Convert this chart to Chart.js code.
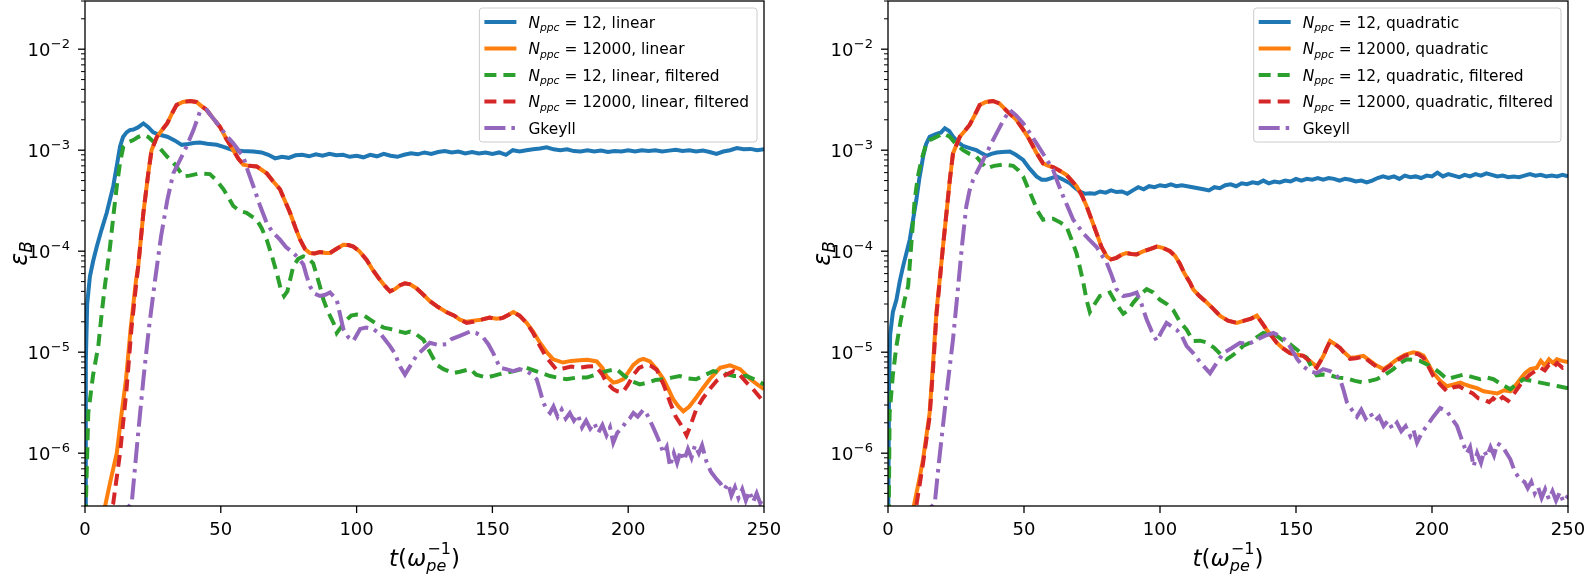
<!DOCTYPE html>
<html>
<head>
<meta charset="utf-8">
<title>epsilon_B vs time</title>
<script src="https://cdn.jsdelivr.net/npm/chart.js@4.4.0/dist/chart.umd.min.js"></script>
<style>
  html, body { margin: 0; padding: 0; background: #fff; }
  #wrap { position: relative; width: 1585px; height: 576px; overflow: hidden; }
  #leftBox { position: absolute; left: 0; top: 0; width: 790px; height: 576px; }
  #rightBox { position: absolute; left: 790px; top: 0; width: 795px; height: 576px; }
</style>
</head>
<body>
<div id="wrap">
  <div id="leftBox"><canvas id="leftCanvas"></canvas></div>
  <div id="rightBox"><canvas id="rightCanvas"></canvas></div>
</div>
<script>
// axis ticks
const xTicks = [0, 50, 100, 150, 200, 250];
const yMajorExp = [-6, -5, -4, -3, -2];
const yMin = 3e-7, yMax = 3e-2;

// legend labels
const linearLabels = ['N_{ppc} = 12, linear', 'N_{ppc} = 12000, linear', 'N_{ppc} = 12, linear, filtered', 'N_{ppc} = 12000, linear, filtered', 'Gkeyll'];
const quadLabels = ['N_{ppc} = 12, quadratic', 'N_{ppc} = 12000, quadratic', 'N_{ppc} = 12, quadratic, filtered', 'N_{ppc} = 12000, quadratic, filtered', 'Gkeyll'];

const colors = ['#1f77b4', '#ff7f0e', '#2ca02c', '#d62728', '#9467bd'];
const dashes = [[], [], [12, 7], [12, 7], [21, 6, 3.5, 6]];

// ---- linear shape, Nppc = 12
const lin12T = [0, 0.3, 0.8, 1.8, 3, 4.3, 6, 8, 10.4, 11.7, 12.9, 14, 15.3, 16.5, 17.8, 19.5, 21.5, 23.2, 25.1, 27.5, 30.3, 33, 35.6, 38, 40, 42.3, 45, 48.5, 51, 54.6, 58, 62, 65, 67.5, 70,
  72.5, 75, 77.5, 80, 82.5, 85, 87.5, 90, 92.5, 95, 97.5, 100, 102.5, 105, 107.5, 110, 112.5, 115, 117.5, 120, 122.5, 125, 127.5, 130, 132.5, 135, 137.5, 140, 142.5, 145, 147.5,
  150, 152.5, 155, 157.5, 160, 162.5, 165, 167.5, 170, 172.5, 175, 177.5, 180, 182.5, 185, 187.5, 190, 192.5, 195, 197.5, 200, 202.5, 205, 207.5, 210, 212.5, 215, 217.5, 220,
  222.5, 225, 227.5, 230, 232.5, 235, 237.5, 240, 242.5, 245, 247.5, 250];
const lin12E = [1e-7, 8e-6, 3e-5, 5.6e-5, 8e-5, 1.1e-4, 1.6e-4, 2.4e-4, 4.4e-4, 7e-4, 1.09e-3, 1.35e-3, 1.5e-3, 1.58e-3, 1.6e-3, 1.68e-3, 1.84e-3, 1.7e-3, 1.5e-3, 1.42e-3, 1.36e-3, 1.25e-3, 1.13e-3, 1.15e-3, 1.18e-3, 1.19e-3, 1.16e-3, 1.13e-3, 1.08e-3, 1.0e-3, 0.98e-3, 0.97e-3, 0.95e-3, 0.9e-3, 0.83e-3,
  0.86e-3, 0.84e-3, 0.89e-3, 0.9e-3, 0.87e-3, 0.91e-3, 0.88e-3, 0.92e-3, 0.89e-3, 0.9e-3, 0.86e-3, 0.88e-3, 0.85e-3, 0.9e-3, 0.87e-3, 0.92e-3, 0.88e-3, 0.86e-3, 0.9e-3, 0.93e-3, 0.91e-3, 0.95e-3, 0.92e-3, 0.96e-3, 0.98e-3, 0.95e-3, 0.97e-3, 0.93e-3, 0.96e-3, 0.93e-3, 0.95e-3,
  0.92e-3, 0.95e-3, 0.9e-3, 1.0e-3, 0.97e-3, 1.0e-3, 1.02e-3, 1.04e-3, 1.07e-3, 1.02e-3, 1.0e-3, 1.02e-3, 0.98e-3, 0.97e-3, 1.0e-3, 0.97e-3, 0.99e-3, 0.96e-3, 0.98e-3, 0.97e-3, 1.0e-3, 0.97e-3, 1.0e-3, 0.98e-3, 1.0e-3, 0.97e-3, 0.99e-3, 1.01e-3, 0.98e-3,
  1.0e-3, 0.97e-3, 0.99e-3, 0.96e-3, 0.92e-3, 0.97e-3, 1.0e-3, 1.05e-3, 1.02e-3, 1.03e-3, 1.0e-3, 1.02e-3];

// ---- linear shape, Nppc = 12000
const lin12kT = [0, 7.4, 9.5, 11.7, 13.5, 15.1, 16.8, 18.8, 19.6, 21.5, 23.3, 24.5, 26.5, 28.5, 30.3, 32, 33.7, 36, 38.7, 41, 42.8, 44.8, 47, 49.7, 52, 54.6, 56.5, 58.3, 60.5, 63.2, 65, 66.9, 69, 71.8, 73.5, 75.5, 77.5, 79.2,
  81, 82.8, 84.5, 86.5, 88.5, 90.2, 92.5, 95.1, 97, 98.8, 101, 103.7, 106, 108.6, 110.5, 112.3, 114, 116, 117.8, 119.7, 122, 124.6, 127, 130, 133, 136, 138, 140.5, 143, 146, 149, 151.5, 154, 156, 157.7, 160, 162.6,
  165, 167.5, 170, 172.4, 176, 179, 182.2, 185, 188.4, 190.5, 192, 194.5, 196, 198.2, 200, 201.9, 204, 205.6, 208, 210.5, 213, 215, 216.6, 218.5, 220.3, 222.5, 225.2, 227.5, 230, 233.8, 237.5, 241.2, 245, 247.5, 250];
const lin12kE = [1e-7, 3e-7, 5.5e-7, 1e-6, 2.5e-6, 5.4e-6, 1.7e-5, 5.2e-5, 7.1e-5, 2.4e-4, 5.9e-4, 1.0e-3, 1.36e-3, 1.6e-3, 1.85e-3, 2.3e-3, 2.8e-3, 3.0e-3, 3.07e-3, 3.0e-3, 2.75e-3, 2.5e-3, 2.1e-3, 1.7e-3, 1.3e-3, 1.0e-3, 0.82e-3, 0.72e-3, 0.7e-3, 0.69e-3, 0.64e-3, 0.59e-3, 0.5e-3, 0.41e-3, 0.32e-3, 0.24e-3, 0.17e-3, 1.3e-4,
  1.05e-4, 9.6e-5, 9.5e-5, 9.8e-5, 9.6e-5, 9.6e-5, 1.05e-4, 1.16e-4, 1.15e-4, 1.11e-4, 1.0e-4, 8.2e-5, 6.5e-5, 5.2e-5, 4.5e-5, 4.0e-5, 4.2e-5, 4.6e-5, 4.8e-5, 4.7e-5, 4.3e-5, 3.7e-5, 3.2e-5, 2.8e-5, 2.5e-5, 2.3e-5, 2.1e-5, 2.0e-5, 2.05e-5, 2.1e-5, 2.2e-5, 2.15e-5, 2.2e-5, 2.35e-5, 2.5e-5, 2.3e-5, 1.95e-5,
  1.6e-5, 1.24e-5, 1.0e-5, 8.5e-6, 7.9e-6, 8.2e-6, 8.3e-6, 8.4e-6, 8.1e-6, 7.0e-6, 5.8e-6, 5.0e-6, 5.1e-6, 5.4e-6, 6.3e-6, 7.5e-6, 8.3e-6, 8.6e-6, 8.1e-6, 6.8e-6, 5.4e-6, 4.2e-6, 3.4e-6, 2.9e-6, 2.6e-6, 2.9e-6, 3.6e-6, 4.4e-6, 5.4e-6, 7.0e-6, 7.4e-6, 6.8e-6, 5.4e-6, 4.8e-6, 4.3e-6];

// ---- linear shape, Nppc = 12, filtered
const lin12fT = [0, 0.3, 1.2, 3, 4.9, 6.2, 7.4, 9.2, 10.5, 11.7, 12.9, 14.1, 16, 17.8, 19.5, 21.5, 23.3, 25.1, 27.5, 30.3, 32, 33.7, 36.2, 38.5, 42.3, 46, 48.5, 51, 52.8, 54.6, 57, 59.5, 61.5, 63.2, 65, 66.9, 68.8, 70.6, 72, 73.3, 74.5, 76.7, 78.5,
  80.4, 82, 84, 85.3, 86.5, 87.8, 89.5, 91.5, 92.7, 94.5, 96.4, 98, 100, 102.8, 105, 107.4, 110, 112.3, 114, 116, 118, 119.7, 122, 124.6, 127, 129.5, 132, 135.6, 138, 141.8, 144, 147.9, 151, 154, 158, 162.6, 166,
  171.2, 174, 177.3, 181, 184.7, 188, 192, 195.7, 198, 201, 204.3, 207, 210, 213, 216, 219, 222, 225, 228, 231.3, 235, 238.9, 243.6, 247, 250];
const lin12fE = [1e-7, 3e-7, 2.5e-6, 6e-6, 1.15e-5, 2.5e-5, 4.7e-5, 1.1e-4, 2.3e-4, 4.4e-4, 7.5e-4, 1.08e-3, 1.2e-3, 1.26e-3, 1.35e-3, 1.42e-3, 1.35e-3, 1.22e-3, 1.05e-3, 0.86e-3, 0.78e-3, 0.69e-3, 0.55e-3, 0.56e-3, 0.59e-3, 0.58e-3, 0.5e-3, 0.41e-3, 0.34e-3, 0.28e-3, 0.25e-3, 0.24e-3, 0.22e-3, 2.05e-4, 1.7e-4, 1.3e-4, 9e-5, 6.1e-5, 4.3e-5, 3.6e-5, 4.0e-5, 7.1e-5, 8.4e-5,
  8.9e-5, 8.6e-5, 7.6e-5, 5.8e-5, 4.5e-5, 3.3e-5, 2.5e-5, 1.95e-5, 1.55e-5, 1.8e-5, 2.1e-5, 2.3e-5, 2.36e-5, 2.3e-5, 2.1e-5, 1.9e-5, 1.75e-5, 1.7e-5, 1.65e-5, 1.6e-5, 1.55e-5, 1.6e-5, 1.5e-5, 1.33e-5, 1.0e-5, 7.5e-6, 6.8e-6, 6.2e-6, 6.4e-6, 6.8e-6, 6.0e-6, 5.6e-6, 5.9e-6, 6.2e-6, 6.5e-6, 7.0e-6, 6.5e-6,
  5.8e-6, 5.6e-6, 5.4e-6, 5.6e-6, 5.6e-6, 6.0e-6, 6.5e-6, 6.8e-6, 6.0e-6, 5.2e-6, 4.8e-6, 5.0e-6, 5.3e-6, 5.4e-6, 5.6e-6, 5.8e-6, 5.5e-6, 5.4e-6, 5.9e-6, 6.5e-6, 6.2e-6, 5.8e-6, 5.8e-6, 5.3e-6, 4.8e-6];

// ---- linear shape, Nppc = 12000, filtered
const lin12kfT = [0, 10.4, 12.9, 15.3, 17.1, 18.8, 19.6, 21.5, 23.3, 24.5, 26.5, 28.5, 30.3, 32, 33.7, 36, 38.7, 41, 42.8, 44.8, 47, 49.7, 52, 54.6, 56.5, 58.3, 60.5, 63.2, 65, 66.9, 69, 71.8, 73.5, 75.5, 77.5, 79.2,
  81, 82.8, 84.5, 86.5, 88.5, 90.2, 92.5, 95.1, 97, 98.8, 101, 103.7, 106, 108.6, 110.5, 112.3, 114, 116, 117.8, 119.7, 122, 124.6, 127, 130, 133, 136, 138, 140.5, 143, 146, 149, 151.5, 154, 156, 157.7, 160, 162.6,
  165, 167.5, 170, 173.6, 176, 179, 182, 185, 188, 190.5, 192, 194.5, 196, 198, 200, 202, 204, 206.8, 208.5, 210.5, 213, 215.4, 217.5, 219.7, 221.5, 223, 225, 227.5, 230, 232.5, 235, 238.9, 241, 243.6, 246, 248, 250];
const lin12kfE = [1e-7, 3.2e-7, 1e-6, 4.3e-6, 1.7e-5, 4.6e-5, 7.1e-5, 2.4e-4, 5.9e-4, 1.0e-3, 1.36e-3, 1.6e-3, 1.85e-3, 2.3e-3, 2.8e-3, 3.0e-3, 3.07e-3, 3.0e-3, 2.75e-3, 2.5e-3, 2.1e-3, 1.7e-3, 1.3e-3, 1.0e-3, 0.82e-3, 0.72e-3, 0.7e-3, 0.69e-3, 0.64e-3, 0.59e-3, 0.5e-3, 0.41e-3, 0.32e-3, 0.24e-3, 0.17e-3, 1.3e-4,
  1.05e-4, 9.6e-5, 9.5e-5, 9.8e-5, 9.6e-5, 9.6e-5, 1.05e-4, 1.16e-4, 1.15e-4, 1.11e-4, 1.0e-4, 8.2e-5, 6.5e-5, 5.2e-5, 4.5e-5, 4.0e-5, 4.2e-5, 4.6e-5, 4.8e-5, 4.7e-5, 4.3e-5, 3.7e-5, 3.2e-5, 2.8e-5, 2.5e-5, 2.3e-5, 2.1e-5, 1.95e-5, 2.0e-5, 2.1e-5, 2.2e-5, 2.1e-5, 2.2e-5, 2.35e-5, 2.5e-5, 2.3e-5, 1.95e-5,
  1.55e-5, 1.15e-5, 8.8e-6, 6.7e-6, 6.9e-6, 7.2e-6, 7.0e-6, 7.2e-6, 7.3e-6, 6.0e-6, 5.0e-6, 4.3e-6, 4.1e-6, 4.0e-6, 4.8e-6, 6.0e-6, 7.0e-6, 7.5e-6, 7.3e-6, 6.7e-6, 4.8e-6, 3.2e-6, 2.3e-6, 1.86e-6, 1.5e-6, 1.9e-6, 2.7e-6, 3.5e-6, 4.3e-6, 5.2e-6, 5.8e-6, 6.5e-6, 6.0e-6, 5.0e-6, 4.3e-6, 3.7e-6, 3.2e-6];

// ---- Gkeyll (left panel)
const linGkT = [0, 17.2, 19.5, 21.5, 23.5, 25.8, 28, 30.3, 32.5, 35, 37.4, 40, 42.3, 44.8, 47, 49.7, 52, 54.6, 56.5, 58.3, 60, 62, 64.5, 66.9, 69, 71.8, 74, 76.7, 78.5, 80.4, 81.5, 82.8, 84.5, 86.5, 88.5, 90.2, 92.7, 95.1, 97, 98.8,
  101.3, 103.5, 106, 109, 112.3, 114, 116, 117.8, 120, 122, 125, 127, 130, 133, 135, 138, 141.8, 144, 146.6, 148.5, 150.3, 152.8, 155, 157.7, 160, 162.6, 164.5, 166.3, 167.5, 168.7, 170, 171.2, 172.5, 174, 175.5,
  177, 178.5, 180, 181.5, 183, 184.5, 186, 187.5, 189, 190.5, 192, 193.3, 194.5, 196, 197.5, 199, 200.5, 201.9, 203.5, 205.6, 207, 209, 211, 213, 214.2, 215.4, 216.8, 218, 219.3, 220.6, 222, 223.3, 224.6, 226, 227.2,
  228.9, 230.5, 232.6, 234, 235.4, 236.8, 238, 239.3, 240.6, 242, 243.3, 244.6, 246, 247.3, 248.6, 250];
const linGkE = [1e-7, 3.2e-7, 1.5e-6, 5.4e-6, 1.7e-5, 5.2e-5, 1.4e-4, 3.2e-4, 5.9e-4, 0.8e-3, 1.09e-3, 1.6e-3, 2.4e-3, 2.5e-3, 2.1e-3, 1.7e-3, 1.4e-3, 1.17e-3, 1.0e-3, 0.86e-3, 0.62e-3, 4.4e-4, 2.8e-4, 1.9e-4, 1.55e-4, 1.3e-4, 1.1e-4, 9.6e-5, 8.6e-5, 7.4e-5, 5.8e-5, 4.5e-5, 3.8e-5, 3.6e-5, 3.7e-5, 3.9e-5, 3.3e-5, 1.7e-5, 1.4e-5, 1.29e-5,
  1.7e-5, 1.75e-5, 1.7e-5, 1.5e-5, 1.15e-5, 9.8e-6, 7.2e-6, 6.0e-6, 7.5e-6, 9.2e-6, 1.1e-5, 1.24e-5, 1.18e-5, 1.2e-5, 1.35e-5, 1.45e-5, 1.6e-5, 1.55e-5, 1.4e-5, 1.2e-5, 9.8e-6, 7.0e-6, 6.8e-6, 6.5e-6, 6.8e-6, 6.5e-6, 6.0e-6, 5.4e-6, 4.2e-6, 3.2e-6, 2.7e-6, 2.5e-6, 2.9e-6, 2.3e-6, 2.7e-6,
  2.2e-6, 2.5e-6, 2.1e-6, 2.4e-6, 1.8e-6, 2.1e-6, 1.75e-6, 2.0e-6, 1.6e-6, 1.9e-6, 1.5e-6, 1.8e-6, 1.27e-6, 1.6e-6, 1.75e-6, 2.0e-6, 2.2e-6, 2.5e-6, 2.3e-6, 2.7e-6, 2.4e-6, 1.85e-6, 1.4e-6, 1.0e-6, 1.15e-6, 7.4e-7, 1.0e-6, 8.0e-7, 1.05e-6, 8.5e-7, 1.1e-6, 9.0e-7, 1.2e-6, 1.0e-6, 1.2e-6,
  8.1e-7, 6.5e-7, 5.5e-7, 5.0e-7, 4.4e-7, 5.0e-7, 3.8e-7, 4.6e-7, 3.6e-7, 4.4e-7, 3.4e-7, 4.2e-7, 3.3e-7, 4.0e-7, 3.2e-7, 3.6e-7];

// ---- quadratic shape, Nppc = 12
const quad12T = [0, 0.4, 0.8, 1.8, 3.1, 4.3, 5.5, 8, 10.4, 11.5, 12.9, 14, 15.3, 17.8, 19.5, 20.9, 22.5, 23.9, 25.5, 27.6, 30, 32.5, 34.5, 36.2, 38, 40, 42, 44.8, 47, 49.7, 52, 54.6, 56.5, 58.3, 60, 62, 64.5, 66.9, 68.5, 70.5, 72.5, 74.2,
  76, 78, 80, 82, 84, 86, 88, 90, 92, 94, 96, 98, 100, 102, 104, 106, 108, 110, 112, 114, 116, 118, 120, 122, 124, 126, 128, 130, 132, 134, 136, 138, 140, 142, 144, 146, 148, 150, 152, 154, 156, 158, 160, 162,
  164, 166, 168, 170, 172, 174, 176, 178, 180, 182, 184, 186, 188, 190, 192, 194, 196, 198, 200, 202, 204, 206, 208, 210, 212, 214, 216, 218, 220, 222, 224, 226, 228, 230, 232, 234, 236, 238, 240, 242, 244, 246, 248, 250];
const quad12E = [1e-7, 5e-6, 1.5e-5, 2.5e-5, 3.3e-5, 5e-5, 7e-5, 1.3e-4, 3.2e-4, 5.2e-4, 0.86e-3, 1.15e-3, 1.36e-3, 1.45e-3, 1.5e-3, 1.65e-3, 1.55e-3, 1.36e-3, 1.22e-3, 1.1e-3, 1.05e-3, 1.0e-3, 0.93e-3, 0.88e-3, 0.92e-3, 0.95e-3, 0.96e-3, 0.97e-3, 0.9e-3, 0.8e-3, 0.66e-3, 0.55e-3, 0.51e-3, 0.51e-3, 0.53e-3, 0.55e-3, 0.51e-3, 0.47e-3, 0.43e-3, 0.39e-3, 0.37e-3, 0.375e-3,
  0.37e-3, 0.39e-3, 0.38e-3, 0.4e-3, 0.385e-3, 0.39e-3, 0.37e-3, 0.4e-3, 0.43e-3, 0.41e-3, 0.44e-3, 0.43e-3, 0.45e-3, 0.44e-3, 0.46e-3, 0.44e-3, 0.45e-3, 0.44e-3, 0.43e-3, 0.42e-3, 0.41e-3, 0.4e-3, 0.43e-3, 0.42e-3, 0.45e-3, 0.46e-3, 0.44e-3, 0.47e-3, 0.46e-3, 0.48e-3, 0.47e-3, 0.5e-3, 0.47e-3, 0.49e-3, 0.48e-3, 0.5e-3, 0.49e-3, 0.52e-3, 0.5e-3, 0.52e-3, 0.51e-3, 0.53e-3, 0.51e-3, 0.53e-3,
  0.52e-3, 0.5e-3, 0.52e-3, 0.51e-3, 0.49e-3, 0.5e-3, 0.48e-3, 0.5e-3, 0.53e-3, 0.55e-3, 0.53e-3, 0.55e-3, 0.52e-3, 0.56e-3, 0.54e-3, 0.55e-3, 0.53e-3, 0.56e-3, 0.55e-3, 0.6e-3, 0.55e-3, 0.58e-3, 0.56e-3, 0.54e-3, 0.57e-3, 0.55e-3, 0.58e-3, 0.56e-3, 0.59e-3, 0.57e-3, 0.55e-3, 0.56e-3, 0.54e-3, 0.55e-3, 0.54e-3, 0.56e-3, 0.58e-3, 0.56e-3, 0.57e-3, 0.55e-3, 0.56e-3, 0.55e-3, 0.57e-3, 0.55e-3];

// ---- quadratic shape, Nppc = 12000
const quad12kT = [0, 9.5, 11.5, 12.9, 15.3, 16.6, 17.8, 19, 20.2, 21.5, 22.7, 23.9, 26.4, 28.2, 30, 31.8, 33.7, 36, 38.6, 41, 44, 47.2, 49.7, 52.1, 54.5, 57, 59, 60.7, 63, 65.6, 67.5, 69.3, 71.2, 73, 75, 76.7, 78.5, 80.4, 82, 84, 85.8, 87.7, 89.5, 91.4,
  94, 96.3, 98.8, 101, 103.7, 105.5, 107.3, 109, 111, 112.2, 114.5, 117.2, 119.5, 122, 125, 128.2, 131, 133.5, 135.6, 137.5, 139.2, 141, 142.9, 145, 147.8, 150, 152.7, 155, 157.6, 158.8, 160.1, 161.3, 162.5, 164.3, 166.2, 168,
  169.9, 172, 174.8, 177, 179.5, 182.2, 184.5, 187.1, 190, 193.2, 195, 196.9, 198.7, 200.5, 203, 205.5, 208, 210.4, 212, 214, 216.5, 219, 221.5, 224, 226.5, 228.8, 230.5, 232.4, 234.2, 236.1, 238.5, 240, 241.5, 243, 244.5, 245.9, 247.8, 250];
const quad12kE = [1e-7, 3e-7, 5.5e-7, 8.7e-7, 2.5e-6, 8e-6, 2.5e-5, 5.2e-5, 1.1e-4, 2.4e-4, 5e-4, 0.93e-3, 1.36e-3, 1.55e-3, 1.78e-3, 2.2e-3, 2.8e-3, 3.0e-3, 3.07e-3, 2.9e-3, 2.4e-3, 2.0e-3, 1.6e-3, 1.26e-3, 0.95e-3, 0.74e-3, 0.7e-3, 0.68e-3, 0.63e-3, 0.57e-3, 0.5e-3, 0.44e-3, 0.36e-3, 0.28e-3, 0.2e-3, 1.5e-4, 1.1e-4, 8.9e-5, 8.3e-5, 8.6e-5, 9.2e-5, 9.6e-5, 9.4e-5, 9.3e-5,
  1.0e-4, 1.05e-4, 1.11e-4, 1.08e-4, 1.0e-4, 9.0e-5, 7.5e-5, 6.0e-5, 4.9e-5, 4.2e-5, 3.6e-5, 3.1e-5, 2.7e-5, 2.3e-5, 2.05e-5, 1.95e-5, 2.05e-5, 2.15e-5, 2.3e-5, 1.95e-5, 1.67e-5, 1.45e-5, 1.24e-5, 1.1e-5, 9.8e-6, 9.5e-6, 9.2e-6, 8.2e-6, 7.2e-6, 8.0e-6, 9.2e-6, 1.1e-5, 1.29e-5, 1.2e-5, 1.1e-5, 9.8e-6,
  8.8e-6, 8.9e-6, 9.2e-6, 8.3e-6, 7.4e-6, 6.8e-6, 7.5e-6, 8.5e-6, 9.4e-6, 1.0e-5, 9.8e-6, 9.2e-6, 7.6e-6, 6.2e-6, 5.2e-6, 4.6e-6, 4.8e-6, 5.0e-6, 4.8e-6, 4.6e-6, 4.4e-6, 4.1e-6, 4.0e-6, 3.9e-6, 4.2e-6, 4.1e-6, 4.6e-6, 5.4e-6, 6.2e-6, 6.8e-6, 7.0e-6, 8.2e-6, 7.4e-6, 8.5e-6, 7.8e-6, 8.5e-6, 8.2e-6, 8.0e-6];

// ---- quadratic shape, Nppc = 12, filtered
const quad12fT = [0, 0.3, 0.6, 1.8, 3.1, 4.6, 6.1, 7.4, 8.6, 9.8, 11, 12.3, 13.8, 15.3, 17.8, 20.2, 22.7, 25, 27.6, 30, 32.5, 34.5, 36.2, 39, 42.3, 46, 48, 49.7, 51.5, 53.4, 55, 57, 59, 60.7, 63, 65.6, 67.5, 69.3, 70.5, 71.8, 73, 74.2, 76, 77.9, 79.8,
  81.6, 84, 86.5, 88.3, 90.2, 92.7, 95.1, 97.5, 100, 102.5, 104.9, 107.3, 109.8, 112.2, 114.7, 117.2, 120, 122.3, 124.5, 126.4, 128.2, 130.5, 133, 135.5, 138, 140.5, 142.9, 145.4, 147.8, 150.5, 154, 155.8, 157.6,
  160, 162.5, 165.5, 168.7, 171.7, 174.8, 177.2, 179.7, 182.8, 185.8, 188.3, 190.7, 193, 195.6, 198, 200.5, 203, 205.5, 208.5, 211.6, 214.6, 217.7, 220.2, 222.6, 225.5, 228.8, 231.2, 233.7, 236.8, 239.8, 243, 246.5, 250];
const quad12fE = [1e-7, 3e-7, 2.5e-6, 6e-6, 1.15e-5, 2.0e-5, 3.3e-5, 4.5e-5, 1.2e-4, 3.2e-4, 5.5e-4, 0.8e-3, 1.1e-3, 1.26e-3, 1.35e-3, 1.47e-3, 1.36e-3, 1.15e-3, 1.0e-3, 0.92e-3, 0.86e-3, 0.75e-3, 0.66e-3, 0.7e-3, 0.72e-3, 0.7e-3, 0.63e-3, 0.55e-3, 0.42e-3, 3.2e-4, 2.5e-4, 2.05e-4, 2.1e-4, 2.1e-4, 1.95e-4, 1.76e-4, 1.3e-4, 9.6e-5, 7e-5, 4.9e-5, 3.3e-5, 2.5e-5, 3.0e-5, 3.6e-5, 3.7e-5,
  3.9e-5, 3.0e-5, 2.4e-5, 2.6e-5, 3.1e-5, 3.7e-5, 4.2e-5, 3.9e-5, 3.3e-5, 3.0e-5, 2.6e-5, 2.0e-5, 1.67e-5, 1.29e-5, 1.3e-5, 1.25e-5, 1.1e-5, 9.5e-6, 8.5e-6, 9.2e-6, 1.0e-5, 1.15e-5, 1.24e-5, 1.4e-5, 1.55e-5, 1.5e-5, 1.45e-5, 1.3e-5, 1.2e-5, 1.05e-5, 8.8e-6, 7.0e-6, 5.9e-6,
  6.0e-6, 5.9e-6, 5.6e-6, 5.5e-6, 5.2e-6, 5.0e-6, 5.2e-6, 5.4e-6, 6.0e-6, 6.8e-6, 7.8e-6, 8.5e-6, 8.4e-6, 8.2e-6, 7.6e-6, 7.0e-6, 6.2e-6, 5.4e-6, 5.7e-6, 6.0e-6, 5.7e-6, 5.4e-6, 5.6e-6, 5.4e-6, 4.8e-6, 4.3e-6, 4.9e-6, 5.4e-6, 5.2e-6, 5.0e-6, 4.8e-6, 4.6e-6, 4.4e-6];

// ---- quadratic shape, Nppc = 12000, filtered
const quad12kfT = [0, 10.4, 12.9, 15.3, 16.6, 17.8, 19, 20.2, 21.5, 22.7, 23.9, 26.4, 28.2, 30, 31.8, 33.7, 36, 38.6, 41, 44, 47.2, 49.7, 52.1, 54.5, 57, 59, 60.7, 63, 65.6, 67.5, 69.3, 71.2, 73, 75, 76.7, 78.5, 80.4, 82, 84, 85.8, 87.7, 89.5, 91.4,
  94, 96.3, 98.8, 101, 103.7, 105.5, 107.3, 109, 111, 112.2, 114.5, 117.2, 119.5, 122, 125, 128.2, 131, 133.5, 135.6, 137.5, 139.2, 141, 142.9, 145, 147.8, 150, 152.7, 155, 157.6, 158.8, 160.1, 161.3, 162.5, 164.3, 166.2, 168,
  169.9, 172, 174.8, 177, 179.5, 182.2, 184.5, 187.1, 190, 193.2, 195, 196.9, 198.7, 200.5, 203, 205.5, 208, 210, 212.5, 215, 217, 219, 221, 222.5, 224, 226, 228, 230.5, 233, 236, 238, 240, 241.5, 243, 244.5, 246, 248, 250];
const quad12kfE = [1e-7, 3e-7, 8e-7, 2.3e-6, 7e-6, 2.3e-5, 5.0e-5, 1.1e-4, 2.4e-4, 5e-4, 0.93e-3, 1.36e-3, 1.55e-3, 1.78e-3, 2.2e-3, 2.8e-3, 3.0e-3, 3.07e-3, 2.9e-3, 2.4e-3, 2.0e-3, 1.6e-3, 1.26e-3, 0.95e-3, 0.74e-3, 0.7e-3, 0.68e-3, 0.63e-3, 0.57e-3, 0.5e-3, 0.44e-3, 0.36e-3, 0.28e-3, 0.2e-3, 1.5e-4, 1.1e-4, 8.9e-5, 8.3e-5, 8.6e-5, 9.2e-5, 9.6e-5, 9.4e-5, 9.3e-5,
  1.0e-4, 1.05e-4, 1.11e-4, 1.08e-4, 1.0e-4, 9.0e-5, 7.5e-5, 6.0e-5, 4.9e-5, 4.2e-5, 3.6e-5, 3.1e-5, 2.7e-5, 2.3e-5, 2.05e-5, 1.95e-5, 2.05e-5, 2.15e-5, 2.3e-5, 1.95e-5, 1.67e-5, 1.45e-5, 1.24e-5, 1.1e-5, 9.8e-6, 9.5e-6, 9.2e-6, 8.2e-6, 7.0e-6, 8.0e-6, 9.2e-6, 1.1e-5, 1.27e-5, 1.2e-5, 1.1e-5, 9.6e-6,
  8.6e-6, 8.7e-6, 9.0e-6, 8.1e-6, 7.2e-6, 6.6e-6, 7.3e-6, 8.3e-6, 9.2e-6, 9.8e-6, 9.5e-6, 8.8e-6, 7.2e-6, 5.8e-6, 4.8e-6, 4.1e-6, 4.5e-6, 4.6e-6, 4.2e-6, 3.9e-6, 3.5e-6, 3.4e-6, 3.2e-6, 3.5e-6, 3.2e-6, 3.6e-6, 3.3e-6, 4.0e-6, 5.0e-6, 6.0e-6, 6.5e-6, 7.0e-6, 6.6e-6, 7.5e-6, 7.0e-6, 7.8e-6, 7.0e-6, 7.2e-6];

// ---- Gkeyll (right panel)
const quadGkT = [0, 17.2, 18.7, 20.2, 22, 23.9, 25.8, 27.3, 28.8, 30, 31.3, 33, 35, 37.5, 39.9, 42.3, 44.8, 47.2, 49.7, 52, 54.6, 57.5, 60.7, 62.5, 64.4, 66.2, 68.1, 70, 71.8, 74, 76.7, 78.5, 80.4, 82.2, 84, 86.5, 89, 91.4, 93.2, 95.1, 97, 98.8,
  100.6, 102.4, 104.2, 106.1, 108, 109.8, 112.2, 115, 118.4, 120.8, 123.3, 126.4, 129.4, 132.5, 135.6, 138.5, 141.7, 144, 146.6, 148.5, 150.5, 152.7, 155, 157.6, 160, 162.5, 164.5, 166.2, 167.5, 168.7, 170.5, 172.4,
  174, 175.6, 177.3, 179, 180.6, 182.2, 183.8, 185.4, 187.1, 188.7, 190.3, 192, 193.2, 194.5, 196.3, 198.1, 200.5, 203, 205.5, 207.3, 209.2, 211, 212.8, 214, 215.3, 216.6, 218, 219.2, 220.2, 221.5, 222.8, 224, 225.1, 226.5,
  228.8, 230.5, 232.4, 234, 235.2, 236.5, 237.8, 239, 240.3, 241.6, 243, 244.3, 245.6, 247, 248.3, 250];
const quadGkE = [1e-7, 3.2e-7, 8e-7, 1.86e-6, 5e-6, 1.34e-5, 4.5e-5, 1.2e-4, 2.8e-4, 4.0e-4, 0.51e-3, 0.63e-3, 0.8e-3, 1.1e-3, 1.47e-3, 1.95e-3, 2.5e-3, 2.2e-3, 1.85e-3, 1.5e-3, 1.17e-3, 0.88e-3, 0.64e-3, 0.47e-3, 3.5e-4, 2.7e-4, 2.05e-4, 1.75e-4, 1.5e-4, 1.3e-4, 1.1e-4, 9.2e-5, 7.7e-5, 5.8e-5, 4.2e-5, 3.6e-5, 3.7e-5, 3.9e-5, 3.0e-5, 2.1e-5, 1.6e-5, 1.29e-5,
  1.6e-5, 1.95e-5, 1.8e-5, 1.67e-5, 1.45e-5, 1.15e-5, 9.8e-6, 7.8e-6, 6.2e-6, 7.8e-6, 9.8e-6, 1.1e-5, 1.24e-5, 1.2e-5, 1.33e-5, 1.45e-5, 1.55e-5, 1.45e-5, 1.29e-5, 1.05e-5, 8.5e-6, 7.2e-6, 6.5e-6, 6.2e-6, 6.8e-6, 6.5e-6, 6.0e-6, 5.4e-6, 4.2e-6, 3.2e-6, 2.7e-6, 2.3e-6,
  2.7e-6, 2.2e-6, 2.5e-6, 2.1e-6, 2.3e-6, 1.86e-6, 2.1e-6, 1.75e-6, 2.0e-6, 1.65e-6, 1.85e-6, 1.48e-6, 1.7e-6, 1.27e-6, 1.6e-6, 1.86e-6, 2.3e-6, 2.8e-6, 2.6e-6, 2.2e-6, 1.86e-6, 1.35e-6, 1.0e-6, 1.15e-6, 7.4e-7, 1.0e-6, 8.0e-7, 1.05e-6, 9.3e-7, 1.15e-6, 9.5e-7, 1.25e-6, 1.2e-6, 1.1e-6,
  8.7e-7, 6.5e-7, 5.5e-7, 5.2e-7, 4.5e-7, 5.2e-7, 4.0e-7, 4.6e-7, 3.6e-7, 4.4e-7, 3.5e-7, 4.2e-7, 3.4e-7, 4.1e-7, 3.3e-7, 3.8e-7];

const FONT = '"DejaVu Sans", Verdana, sans-serif';

function pts(ts, es) {
    return ts.map((t, i) => ({ x: t, y: es[i] }));
}

function makeDatasets(series) {
    return series.map((s, i) => ({
        data: pts(s[0], s[1]),
        borderColor: colors[i],
        borderWidth: 4,
        borderDash: dashes[i],
        pointRadius: 0,
        fill: false,
        tension: 0,
        clip: 0,
        order: 4 - i   // matplotlib draws later series on top
    }));
}

// draws "N_{ppc} = ..." style text, returns width
function drawRich(ctx, str, x, y, size, measureOnly) {
    const m = str.match(/^(\w)_\{(\w+)\}(.*)$/);
    const mainFont = size + 'px ' + FONT;
    const itFont = 'italic ' + size + 'px ' + FONT;
    const subFont = 'italic ' + (size * 0.7).toFixed(1) + 'px ' + FONT;
    let w = 0;
    if (!m) {
        ctx.font = mainFont;
        if (!measureOnly) ctx.fillText(str, x, y);
        return ctx.measureText(str).width;
    }
    ctx.font = itFont;
    if (!measureOnly) ctx.fillText(m[1], x, y);
    w += ctx.measureText(m[1]).width;
    ctx.font = subFont;
    if (!measureOnly) ctx.fillText(m[2], x + w, y + size * 0.22);
    w += ctx.measureText(m[2]).width;
    ctx.font = mainFont;
    if (!measureOnly) ctx.fillText(m[3], x + w, y);
    w += ctx.measureText(m[3]).width;
    return w;
}

function drawLegend(ctx, area, labels) {
    const size = 15.4, rowH = 26.5, handle = 32;
    ctx.textAlign = 'left';
    ctx.textBaseline = 'alphabetic';
    let maxW = 0;
    labels.forEach(l => { maxW = Math.max(maxW, drawRich(ctx, l, 0, 0, size, true)); });
    const right = area.right - 7;
    const left = right - (5 + handle + 12 + maxW + 8);
    const top = area.top + 7, bottom = area.top + 141;
    const r = 3;
    ctx.beginPath();
    ctx.moveTo(left + r, top);
    ctx.lineTo(right - r, top);
    ctx.arcTo(right, top, right, top + r, r);
    ctx.lineTo(right, bottom - r);
    ctx.arcTo(right, bottom, right - r, bottom, r);
    ctx.lineTo(left + r, bottom);
    ctx.arcTo(left, bottom, left, bottom - r, r);
    ctx.lineTo(left, top + r);
    ctx.arcTo(left, top, left + r, top, r);
    ctx.closePath();
    ctx.fillStyle = 'rgba(255,255,255,0.8)';
    ctx.fill();
    ctx.strokeStyle = '#cccccc';
    ctx.lineWidth = 1;
    ctx.stroke();

    labels.forEach((l, i) => {
        const base = top + 19.7 + i * rowH;
        const ly = base - 5.7;
        ctx.save();
        ctx.strokeStyle = colors[i];
        ctx.lineWidth = 4;
        ctx.lineCap = 'butt';
        ctx.setLineDash(dashes[i]);
        ctx.beginPath();
        ctx.moveTo(left + 5, ly);
        ctx.lineTo(left + 5 + handle, ly);
        ctx.stroke();
        ctx.restore();
        ctx.fillStyle = '#000';
        drawRich(ctx, l, left + 5 + handle + 12, base, size, false);
    });
}

function drawAxes(ctx, chart) {
    const area = chart.chartArea;
    const xs = chart.scales.x, ys = chart.scales.y;
    ctx.save();
    ctx.strokeStyle = '#000';
    ctx.fillStyle = '#000';
    ctx.lineWidth = 1.3;

    // frame
    ctx.strokeRect(area.left, area.top, area.right - area.left, area.bottom - area.top);

    // x ticks
    ctx.font = '18px ' + FONT;
    ctx.textAlign = 'center';
    ctx.textBaseline = 'alphabetic';
    xTicks.forEach(v => {
        const px = xs.getPixelForValue(v);
        ctx.beginPath();
        ctx.moveTo(px, area.bottom);
        ctx.lineTo(px, area.bottom + 7);
        ctx.stroke();
        ctx.fillText(String(v), px, area.bottom + 28.8);
    });

    // y minor ticks
    for (let e = -7; e <= -2; e++) {
        for (let k = 2; k <= 9; k++) {
            const v = k * Math.pow(10, e);
            if (v < yMin * 0.999 || v > yMax * 1.001) continue;
            const py = ys.getPixelForValue(v);
            ctx.lineWidth = 1;
            ctx.beginPath();
            ctx.moveTo(area.left - 4, py);
            ctx.lineTo(area.left, py);
            ctx.stroke();
        }
    }
    // y major ticks and labels
    ctx.lineWidth = 1.3;
    yMajorExp.forEach(e => {
        const py = ys.getPixelForValue(Math.pow(10, e));
        ctx.beginPath();
        ctx.moveTo(area.left - 7, py);
        ctx.lineTo(area.left, py);
        ctx.stroke();
        const sup = '\u2212' + Math.abs(e);
        ctx.textAlign = 'left';
        ctx.font = '13px ' + FONT;
        const wSup = ctx.measureText(sup).width;
        ctx.font = '18px ' + FONT;
        const wBase = ctx.measureText('10').width;
        const x0 = area.left - 15.5 - wSup - wBase;
        ctx.fillText('10', x0, py + 6.5);
        ctx.font = '13px ' + FONT;
        ctx.fillText(sup, x0 + wBase + 0.5, py - 0.8);
    });

    // x axis label: t(omega_pe^-1)
    const big = 23, small = 16;
    const fIt = 'italic ' + big + 'px ' + FONT;
    const fRm = big + 'px ' + FONT;
    const fSmIt = 'italic ' + small + 'px ' + FONT;
    const fSm = small + 'px ' + FONT;
    ctx.textAlign = 'left';
    const pieces = [['t', fIt], ['(', fRm], ['\u03c9', fIt]];
    let widths = pieces.map(p => { ctx.font = p[1]; return ctx.measureText(p[0]).width; });
    ctx.font = fSm; const wSup = ctx.measureText('\u22121').width;
    ctx.font = fSmIt; const wSub = ctx.measureText('pe').width;
    ctx.font = fRm; const wClose = ctx.measureText(')').width;
    const total = widths.reduce((a, b) => a + b, 0) + Math.max(wSup, wSub) + 1 + wClose;
    let cx = (area.left + area.right) / 2 - total / 2;
    const baseY = area.bottom + 59.5;
    pieces.forEach((p, i) => { ctx.font = p[1]; ctx.fillText(p[0], cx, baseY); cx += widths[i]; });
    ctx.font = fSm; ctx.fillText('\u22121', cx + 1, baseY - 11.5);
    ctx.font = fSmIt; ctx.fillText('pe', cx, baseY + 5.5);
    cx += Math.max(wSup, wSub) + 1;
    ctx.font = fRm; ctx.fillText(')', cx, baseY);

    // y axis label: epsilon_B
    ctx.save();
    ctx.translate(area.left - 58, (area.top + area.bottom) / 2);
    ctx.rotate(-Math.PI / 2);
    ctx.font = 'italic 24px ' + FONT;
    const wEps = ctx.measureText('\u03b5').width;
    ctx.font = 'italic 17px ' + FONT;
    const wB = ctx.measureText('B').width;
    const sx = -(wEps + wB) / 2;
    ctx.font = 'italic 24px ' + FONT;
    ctx.fillText('\u03b5', sx, 0);
    ctx.font = 'italic 17px ' + FONT;
    ctx.fillText('B', sx + wEps, 5);
    ctx.restore();

    ctx.restore();
}

function buildChart(canvasId, series, labels, padding) {
    const ctx = document.getElementById(canvasId).getContext('2d');
    const axesPlugin = {
        id: 'mplAxes',
        afterDraw(chart) {
            drawAxes(chart.ctx, chart);
            drawLegend(chart.ctx, chart.chartArea, labels);
        }
    };
    return new Chart(ctx, {
        type: 'line',
        data: { datasets: makeDatasets(series) },
        options: {
            responsive: true,
            maintainAspectRatio: false,
            animation: false,
            devicePixelRatio: 1,
            layout: { padding: padding },
            plugins: { legend: { display: false }, tooltip: { enabled: false } },
            scales: {
                x: { type: 'linear', min: 0, max: 250, display: false },
                y: { type: 'logarithmic', min: yMin, max: yMax, display: false }
            }
        },
        plugins: [axesPlugin]
    });
}

buildChart('leftCanvas', [
    [lin12T, lin12E], [lin12kT, lin12kE], [lin12fT, lin12fE], [lin12kfT, lin12kfE], [linGkT, linGkE]
], linearLabels, { left: 85, right: 26, top: 1, bottom: 70 });

buildChart('rightCanvas', [
    [quad12T, quad12E], [quad12kT, quad12kE], [quad12fT, quad12fE], [quad12kfT, quad12kfE], [quadGkT, quadGkE]
], quadLabels, { left: 98, right: 17, top: 1, bottom: 70 });
</script>
</body>
</html>
